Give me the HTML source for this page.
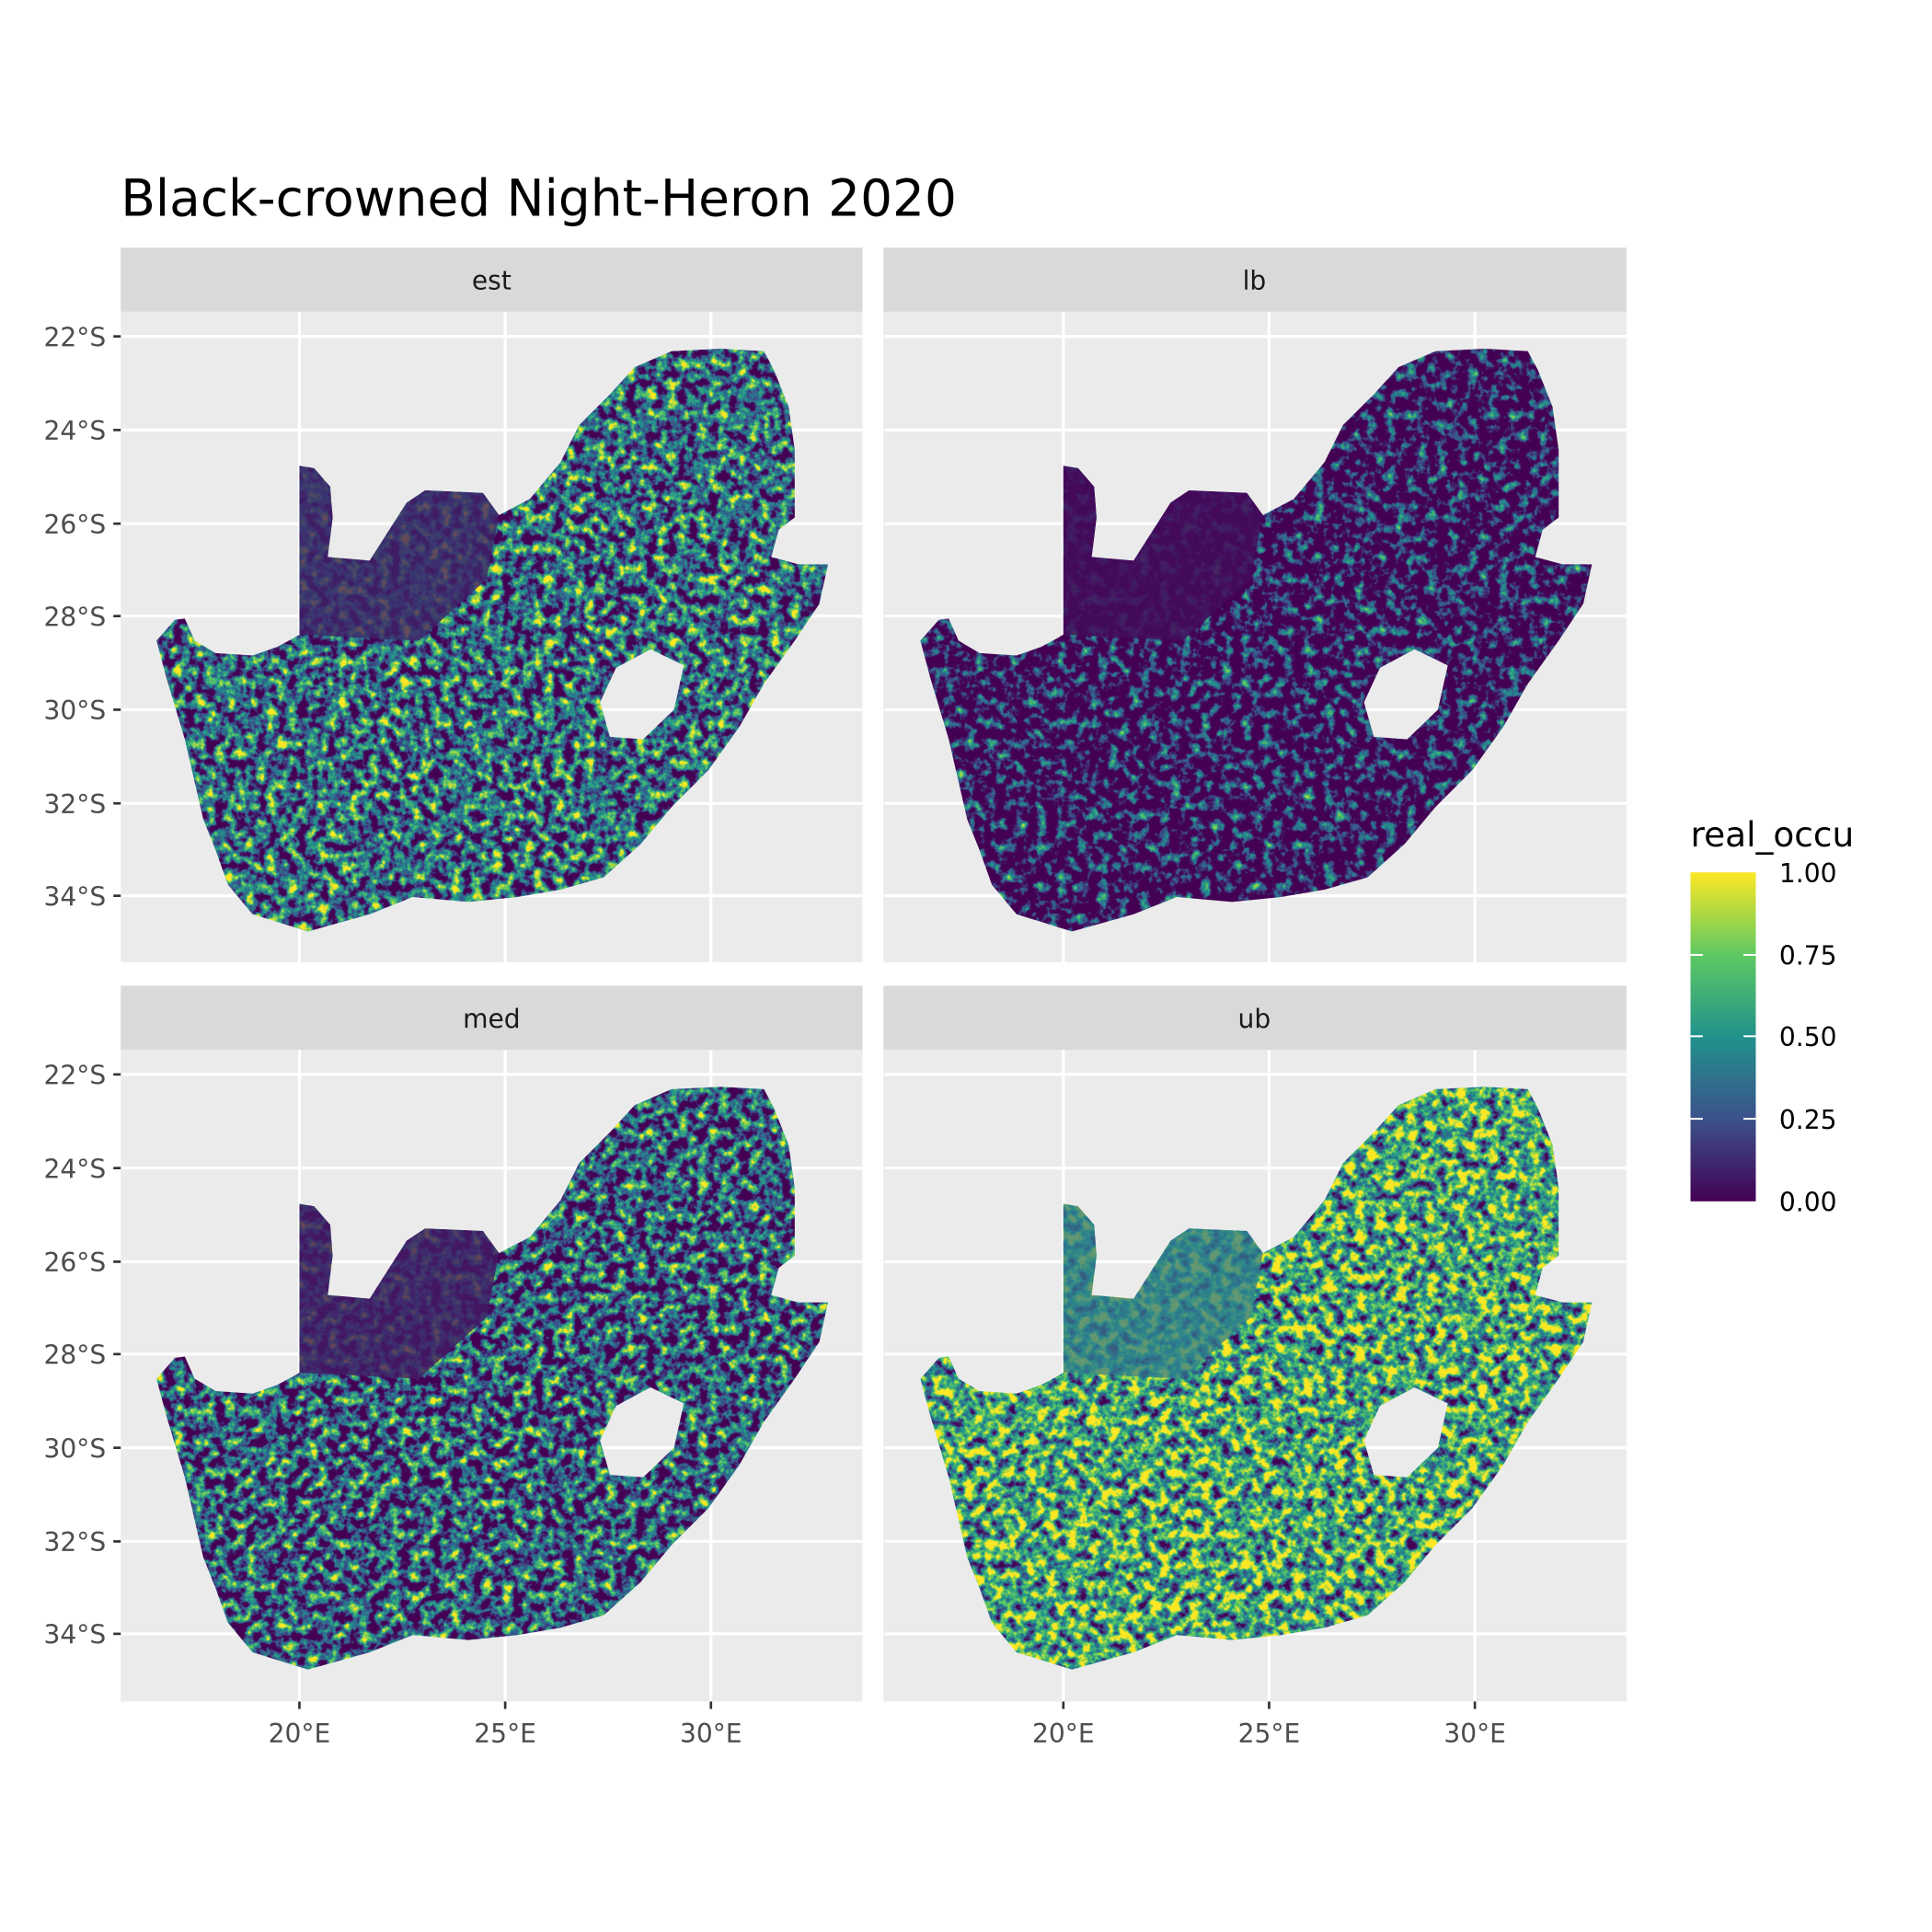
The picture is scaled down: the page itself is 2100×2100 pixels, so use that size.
<!DOCTYPE html>
<html><head><meta charset="utf-8"><style>html,body{margin:0;padding:0;background:#fff}svg{display:block}</style></head>
<body>
<svg width="2100" height="2100" viewBox="0 0 1568 1568" xmlns="http://www.w3.org/2000/svg" font-family="DejaVu Sans, Liberation Sans, sans-serif">
<defs>
<path id="sa" fill-rule="evenodd" d="M127,520 L142,503 L150,502 L158,520 L175,530 L205,532 L225,525 L238,518 L243,515 L243,378 L255,380 L268,395 L270,420 L266,452 L300,455 L330,408 L345,398 L392,400 L405,418 L430,405 L455,375 L470,345 L495,320 L515,298 L545,285 L585,283 L620,285 L628,300 L640,330 L645,365 L645,420 L632,430 L626,452 L648,458 L672,458 L665,490 L645,520 L620,555 L600,590 L575,625 L545,655 L520,685 L490,712 L455,722 L420,728 L380,732 L335,728 L300,742 L250,756 L205,742 L185,718 L175,690 L165,665 L150,600 L135,550 Z M487,570 L500,542 L528,527 L555,540 L547,576 L522,600 L495,598 Z"/>
<path id="kal" d="M243,378 L255,380 L268,395 L270,420 L266,452 L300,455 L330,408 L345,398 L392,400 L405,418 L395,470 L340,520 L243,515 Z"/>
<clipPath id="c1" clip-rule="evenodd"><use href="#sa"/></clipPath>
<clipPath id="c2" clip-rule="evenodd"><use href="#sa" transform="translate(620,0)"/></clipPath>
<clipPath id="c3" clip-rule="evenodd"><use href="#sa" transform="translate(0,599)"/></clipPath>
<clipPath id="c4" clip-rule="evenodd"><use href="#sa" transform="translate(620,599)"/></clipPath>
<filter id="fest" x="0" y="0" width="1568" height="1568" filterUnits="userSpaceOnUse" color-interpolation-filters="sRGB">
<feTurbulence type="fractalNoise" baseFrequency="0.12" numOctaves="3" seed="3"/>
<feColorMatrix type="matrix" values="2.4 0 0 0 -0.85  2.4 0 0 0 -0.85  2.4 0 0 0 -0.85  0 0 0 0 1"/>
<feComponentTransfer><feFuncR type="table" tableValues="0.267 0.229 0.128 0.369 0.993"/><feFuncG type="table" tableValues="0.005 0.322 0.567 0.789 0.906"/><feFuncB type="table" tableValues="0.329 0.546 0.551 0.383 0.144"/></feComponentTransfer>
</filter>
<filter id="flb" x="0" y="0" width="1568" height="1568" filterUnits="userSpaceOnUse" color-interpolation-filters="sRGB">
<feTurbulence type="fractalNoise" baseFrequency="0.12" numOctaves="3" seed="3"/>
<feColorMatrix type="matrix" values="2.0 0 0 0 -0.95  2.0 0 0 0 -0.95  2.0 0 0 0 -0.95  0 0 0 0 1"/>
<feComponentTransfer><feFuncR type="table" tableValues="0.267 0.229 0.128 0.369 0.993"/><feFuncG type="table" tableValues="0.005 0.322 0.567 0.789 0.906"/><feFuncB type="table" tableValues="0.329 0.546 0.551 0.383 0.144"/></feComponentTransfer>
</filter>
<filter id="fmed" x="0" y="0" width="1568" height="1568" filterUnits="userSpaceOnUse" color-interpolation-filters="sRGB">
<feTurbulence type="fractalNoise" baseFrequency="0.12" numOctaves="3" seed="5"/>
<feColorMatrix type="matrix" values="2.4 0 0 0 -0.9  2.4 0 0 0 -0.9  2.4 0 0 0 -0.9  0 0 0 0 1"/>
<feComponentTransfer><feFuncR type="table" tableValues="0.267 0.229 0.128 0.369 0.993"/><feFuncG type="table" tableValues="0.005 0.322 0.567 0.789 0.906"/><feFuncB type="table" tableValues="0.329 0.546 0.551 0.383 0.144"/></feComponentTransfer>
</filter>
<filter id="fub" x="0" y="0" width="1568" height="1568" filterUnits="userSpaceOnUse" color-interpolation-filters="sRGB">
<feTurbulence type="fractalNoise" baseFrequency="0.12" numOctaves="3" seed="7"/>
<feColorMatrix type="matrix" values="2.4 0 0 0 -0.6  2.4 0 0 0 -0.6  2.4 0 0 0 -0.6  0 0 0 0 1"/>
<feComponentTransfer><feFuncR type="table" tableValues="0.267 0.229 0.128 0.369 0.993"/><feFuncG type="table" tableValues="0.005 0.322 0.567 0.789 0.906"/><feFuncB type="table" tableValues="0.329 0.546 0.551 0.383 0.144"/></feComponentTransfer>
</filter>
<linearGradient id="vir" x1="0" y1="1" x2="0" y2="0">
<stop offset="0" stop-color="#440154"/><stop offset="0.25" stop-color="#3b528b"/><stop offset="0.5" stop-color="#21918c"/><stop offset="0.75" stop-color="#5ec962"/><stop offset="1" stop-color="#fde725"/>
</linearGradient>
<g id="grid" stroke="#fff" stroke-width="2.4">
<line x1="0" y1="273" x2="602" y2="273"/><line x1="0" y1="349" x2="602" y2="349"/><line x1="0" y1="425" x2="602" y2="425"/><line x1="0" y1="500" x2="602" y2="500"/><line x1="0" y1="576" x2="602" y2="576"/><line x1="0" y1="652" x2="602" y2="652"/><line x1="0" y1="727" x2="602" y2="727"/>
<line x1="145" y1="253" x2="145" y2="781"/><line x1="312" y1="253" x2="312" y2="781"/><line x1="479" y1="253" x2="479" y2="781"/>
</g>
</defs>
<text x="98" y="175" font-size="41" fill="#000">Black-crowned Night-Heron 2020</text>
<rect x="98" y="253" width="602" height="528" fill="#ebebeb"/>
<rect x="717" y="253" width="603" height="528" fill="#ebebeb"/>
<rect x="98" y="852" width="602" height="529" fill="#ebebeb"/>
<rect x="717" y="852" width="603" height="529" fill="#ebebeb"/>
<use href="#grid" x="98" y="0"/><use href="#grid" x="718" y="0"/>
<use href="#grid" x="98" y="599"/><use href="#grid" x="718" y="599"/>
<rect x="98" y="201" width="602" height="52" fill="#d9d9d9"/>
<rect x="717" y="201" width="603" height="52" fill="#d9d9d9"/>
<rect x="98" y="800" width="602" height="52" fill="#d9d9d9"/>
<rect x="717" y="800" width="603" height="52" fill="#d9d9d9"/>
<g font-size="21" fill="#1a1a1a" text-anchor="middle">
<text x="399" y="235">est</text><text x="1018" y="235">lb</text>
<text x="399" y="834">med</text><text x="1018" y="834">ub</text>
</g>
<g clip-path="url(#c1)"><rect x="98" y="253" width="602" height="528" filter="url(#fest)"/><use href="#kal" fill="#3e2468" opacity="0.8"/></g>
<g clip-path="url(#c2)"><rect x="717" y="253" width="603" height="528" filter="url(#flb)"/><use href="#kal" transform="translate(620,0)" fill="#440c5c" opacity="0.85"/></g>
<g clip-path="url(#c3)"><rect x="98" y="852" width="602" height="529" filter="url(#fmed)"/><use href="#kal" transform="translate(0,599)" fill="#421c64" opacity="0.8"/></g>
<g clip-path="url(#c4)"><rect x="717" y="852" width="603" height="529" filter="url(#fub)"/><use href="#kal" transform="translate(620,599)" fill="#2f7c8c" opacity="0.75"/></g>
<g font-size="21" fill="#4d4d4d" text-anchor="end">
<text x="86" y="281">22°S</text><text x="86" y="357">24°S</text><text x="86" y="433">26°S</text><text x="86" y="508">28°S</text><text x="86" y="584">30°S</text><text x="86" y="660">32°S</text><text x="86" y="735">34°S</text>
<text x="86" y="880">22°S</text><text x="86" y="956">24°S</text><text x="86" y="1032">26°S</text><text x="86" y="1107">28°S</text><text x="86" y="1183">30°S</text><text x="86" y="1259">32°S</text><text x="86" y="1334">34°S</text>
</g>
<g stroke="#333" stroke-width="2">
<line x1="92" y1="273" x2="98" y2="273"/><line x1="92" y1="349" x2="98" y2="349"/><line x1="92" y1="425" x2="98" y2="425"/><line x1="92" y1="500" x2="98" y2="500"/><line x1="92" y1="576" x2="98" y2="576"/><line x1="92" y1="652" x2="98" y2="652"/><line x1="92" y1="727" x2="98" y2="727"/>
<line x1="92" y1="872" x2="98" y2="872"/><line x1="92" y1="948" x2="98" y2="948"/><line x1="92" y1="1024" x2="98" y2="1024"/><line x1="92" y1="1099" x2="98" y2="1099"/><line x1="92" y1="1175" x2="98" y2="1175"/><line x1="92" y1="1251" x2="98" y2="1251"/><line x1="92" y1="1326" x2="98" y2="1326"/>
<line x1="243" y1="1381" x2="243" y2="1387"/><line x1="410" y1="1381" x2="410" y2="1387"/><line x1="577" y1="1381" x2="577" y2="1387"/>
<line x1="863" y1="1381" x2="863" y2="1387"/><line x1="1030" y1="1381" x2="1030" y2="1387"/><line x1="1197" y1="1381" x2="1197" y2="1387"/>
</g>
<g font-size="21" fill="#4d4d4d" text-anchor="middle">
<text x="243" y="1414">20°E</text><text x="410" y="1414">25°E</text><text x="577" y="1414">30°E</text>
<text x="863" y="1414">20°E</text><text x="1030" y="1414">25°E</text><text x="1197" y="1414">30°E</text>
</g>
<text x="1372" y="687" font-size="28" fill="#000">real_occu</text>
<rect x="1372" y="708" width="53" height="267" fill="url(#vir)"/>
<g stroke="#fff" stroke-width="1.5">
<line x1="1372" y1="775" x2="1382" y2="775"/><line x1="1415" y1="775" x2="1425" y2="775"/>
<line x1="1372" y1="841" x2="1382" y2="841"/><line x1="1415" y1="841" x2="1425" y2="841"/>
<line x1="1372" y1="908" x2="1382" y2="908"/><line x1="1415" y1="908" x2="1425" y2="908"/>
</g>
<g font-size="21" fill="#000">
<text x="1444" y="716">1.00</text><text x="1444" y="783">0.75</text><text x="1444" y="849">0.50</text><text x="1444" y="916">0.25</text><text x="1444" y="983">0.00</text>
</g>
</svg>
</body></html>
